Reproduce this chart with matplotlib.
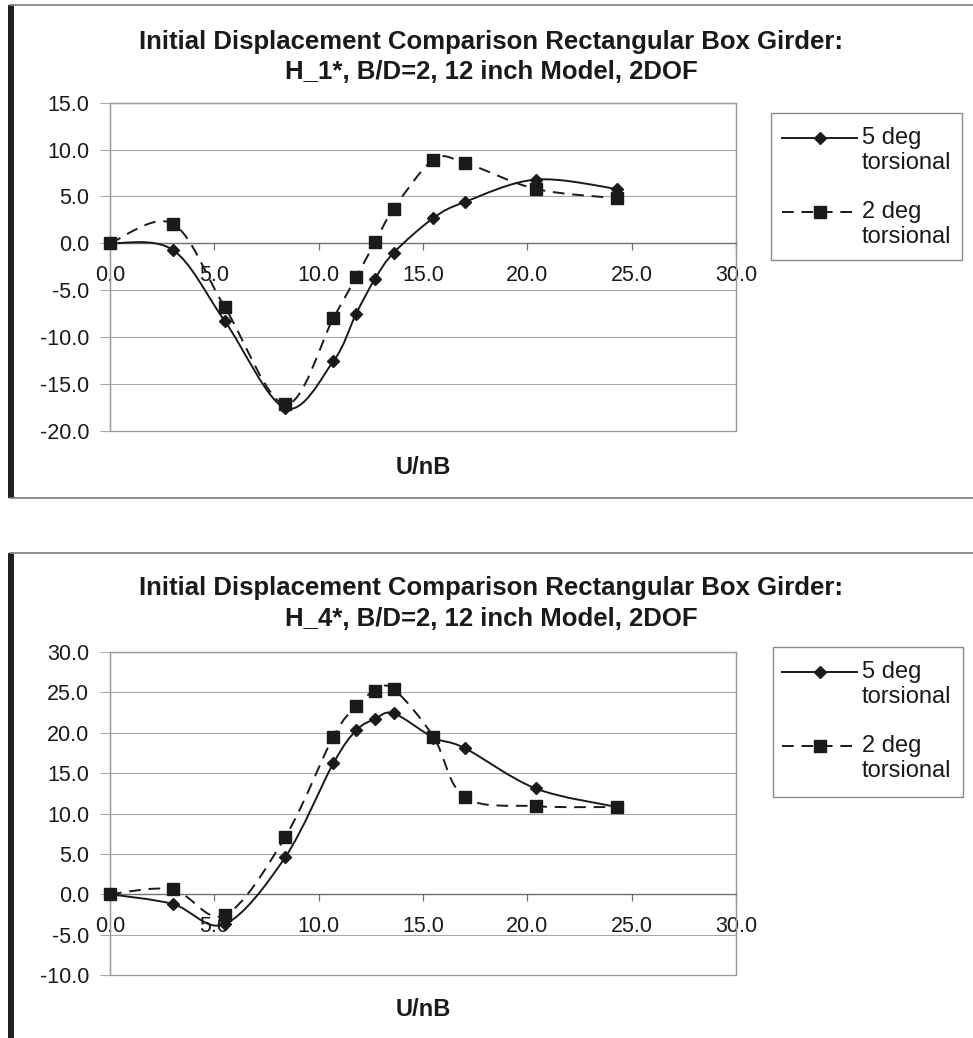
import numpy as np
import matplotlib
matplotlib.use("Agg")
import matplotlib.pyplot as plt
from matplotlib.path import Path
from matplotlib.patches import PathPatch, Rectangle
from matplotlib.lines import Line2D

# ---------------- data ----------------
u_nb = [0.0, 3.0, 5.5, 8.4, 10.7, 11.8, 12.7, 13.6, 15.5, 17.0, 20.4, 24.3]

h1_5deg = [0.0, -0.7, -8.3, -17.6, -12.6, -7.5, -3.8, -1.0, 2.7, 4.4, 6.8, 5.8]
h1_2deg = [0.0, 2.1, -6.8, -17.2, -8.0, -3.6, 0.1, 3.7, 8.9, 8.6, 5.8, 4.8]

h4_5deg = [0.0, -1.2, -3.7, 4.6, 16.2, 20.3, 21.7, 22.4, 19.4, 18.1, 13.1, 10.8]
h4_2deg = [0.0, 0.6, -2.6, 7.1, 19.5, 23.3, 25.2, 25.4, 19.5, 12.0, 10.9, 10.8]

titles = ["Initial Displacement Comparison Rectangular Box Girder:\nH_1*, B/D=2, 12 inch Model, 2DOF",
          "Initial Displacement Comparison Rectangular Box Girder:\nH_4*, B/D=2, 12 inch Model, 2DOF"]
series_labels = ["5 deg\ntorsional", "2 deg\ntorsional"]
x_label = "U/nB"
x_ticks = [0.0, 5.0, 10.0, 15.0, 20.0, 25.0, 30.0]
y_ticks_top = [-20.0, -15.0, -10.0, -5.0, 0.0, 5.0, 10.0, 15.0]
y_ticks_bot = [-10.0, -5.0, 0.0, 5.0, 10.0, 15.0, 20.0, 25.0, 30.0]

# ---------------- style ----------------
W, H = 973, 1038
FONT = ['Liberation Sans', 'DejaVu Sans']
plt.rcParams['font.family'] = FONT
INK = '#1a1a1a'

fig = plt.figure(figsize=(W / 100, H / 100), dpi=100)
fig.patch.set_facecolor('white')


def fx(px):
    return px / W


def fy(py):
    return 1 - py / H


def smooth_path(x, y):
    pts = np.column_stack([x, y]).astype(float)
    n = len(pts)
    verts = [pts[0]]
    codes = [Path.MOVETO]
    for i in range(n - 1):
        p0 = pts[i - 1] if i > 0 else pts[i]
        p1 = pts[i]
        p2 = pts[i + 1]
        p3 = pts[i + 2] if i + 2 < n else pts[i + 1]
        c1 = p1 + (p2 - p0) / 6.0
        c2 = p2 - (p3 - p1) / 6.0
        verts += [c1, c2, p2]
        codes += [Path.CURVE4] * 3
    return Path(verts, codes)


def draw_chart(top_px, bot_px, s5, s2, yticks, title, title_y, xlabel_y,
               legend_box, frame_top, frame_bot):
    ax = fig.add_axes([fx(110), fy(bot_px), fx(736) - fx(110), fy(top_px) - fy(bot_px)])
    ax.set_xlim(0, 30)
    ax.set_ylim(yticks[0], yticks[-1])
    for sp in ['top', 'right', 'left']:
        ax.spines[sp].set_color('#9a9a9a')
        ax.spines[sp].set_linewidth(0.9)
    ax.spines['bottom'].set_position(('data', 0))
    ax.spines['bottom'].set_color('#707070')
    ax.spines['bottom'].set_linewidth(1.0)
    ax.add_patch(Rectangle((0, 0), 1, 1, transform=ax.transAxes, fill=False,
                           ec='#9a9a9a', lw=0.9, zorder=0.5, clip_on=False))
    for yv in yticks:
        if yv != 0:
            ax.axhline(yv, color='#a8a8a8', lw=0.8, zorder=0.6)
    ax.set_xticks(x_ticks)
    ax.set_xticklabels([f"{v:.1f}" for v in x_ticks], fontsize=15.5, color=INK)
    ax.set_yticks(yticks)
    ax.set_yticklabels([f"{v:.1f}" for v in yticks], fontsize=15.5, color=INK)
    ax.tick_params(axis='x', direction='out', length=5, width=0.9, color='#707070', pad=11)
    ax.tick_params(axis='y', direction='out', length=7, width=0.8, color='#a8a8a8', pad=8)

    ax.add_patch(PathPatch(smooth_path(u_nb, s5), fill=False, ec=INK, lw=1.4,
                           zorder=3, clip_on=False))
    ax.add_patch(PathPatch(smooth_path(u_nb, s2), fill=False, ec=INK, lw=1.4,
                           ls=(0, (6, 4)), zorder=3, clip_on=False))
    ax.plot(u_nb, s5, ls='none', marker='D', ms=6.5, color=INK, zorder=4, clip_on=False)
    ax.plot(u_nb, s2, ls='none', marker='s', ms=8, color=INK, zorder=4, clip_on=False)

    # title and axis label
    l1, l2 = title.split('\n')
    fig.text(fx(491), fy(title_y[0]), l1, ha='center', va='center',
             fontsize=18.5, fontweight='bold', color=INK)
    fig.text(fx(491), fy(title_y[1]), l2, ha='center', va='center',
             fontsize=18.5, fontweight='bold', color=INK)
    fig.text(fx(423), fy(xlabel_y), x_label, ha='center', va='center',
             fontsize=17, fontweight='bold', color=INK)

    # legend box (manual)
    bx0, by0, bx1, by1 = legend_box
    fig.add_artist(Rectangle((fx(bx0), fy(by1)), fx(bx1) - fx(bx0), fy(by0) - fy(by1),
                             transform=fig.transFigure, fill=False, ec='#8a8a8a', lw=1.0))
    ys = [by0 + 25, by0 + 99]
    styles = [dict(ls='-', marker='D', ms=6.5), dict(ls=(0, (6, 4)), marker='s', ms=8)]
    for lab, yy, st in zip(series_labels, ys, styles):
        fig.add_artist(Line2D([fx(782), fx(857)], [fy(yy), fy(yy)], transform=fig.transFigure,
                              color=INK, lw=1.4, ls=st['ls']))
        fig.add_artist(Line2D([fx(819.5)], [fy(yy)], transform=fig.transFigure, ls='none',
                              marker=st['marker'], ms=st['ms'], color=INK))
        a, b = lab.split('\n')
        fig.text(fx(862), fy(yy), a, ha='left', va='center', fontsize=17, color=INK)
        fig.text(fx(862), fy(yy + 25), b, ha='left', va='center', fontsize=17, color=INK)

    # chart frame
    fig.add_artist(Line2D([fx(10), fx(973)], [fy(frame_top), fy(frame_top)],
                          transform=fig.transFigure, color='#7a7a7a', lw=1.2))
    if frame_bot is not None:
        fig.add_artist(Line2D([fx(10), fx(973)], [fy(frame_bot), fy(frame_bot)],
                              transform=fig.transFigure, color='#7a7a7a', lw=1.2))
        yb = frame_bot
    else:
        yb = H
    fig.add_artist(Rectangle((fx(8), fy(yb)), fx(6), fy(frame_top) - fy(yb),
                             transform=fig.transFigure, color='#222222', lw=0))
    return ax


draw_chart(102.7, 430.7, h1_5deg, h1_2deg, y_ticks_top, titles[0], (42, 72), 468,
           (771, 113, 962, 260), 5, 498)
draw_chart(652, 975, h4_5deg, h4_2deg, y_ticks_bot, titles[1], (588, 619), 1010,
           (773, 647, 963, 797), 553, None)

fig.savefig("out.png", dpi=100)
